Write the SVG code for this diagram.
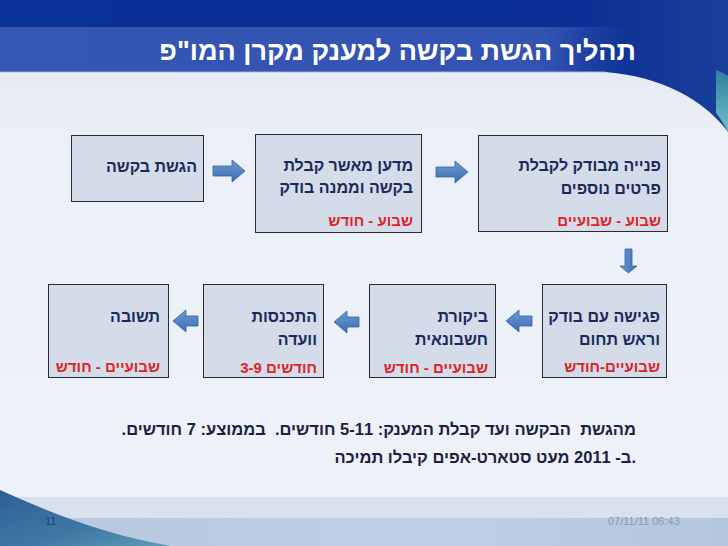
<svg xmlns="http://www.w3.org/2000/svg" width="728" height="546" viewBox="0 0 728 546">
<defs>
<linearGradient id="bg" x1="0" y1="0" x2="0" y2="1">
<stop offset="0" stop-color="#dfe6f2"/><stop offset="0.25" stop-color="#ebeff7"/><stop offset="1" stop-color="#eef2f8"/>
</linearGradient>
<linearGradient id="hdr" x1="0" y1="0" x2="1" y2="0">
<stop offset="0" stop-color="#0a3198"/><stop offset="0.8" stop-color="#0b2f94"/><stop offset="1" stop-color="#1a3f9a"/>
</linearGradient>
<linearGradient id="band" x1="0" y1="0" x2="1" y2="0">
<stop offset="0" stop-color="#3656b4"/><stop offset="0.75" stop-color="#3353b2"/><stop offset="0.86" stop-color="#3353b2" stop-opacity="0"/>
</linearGradient>
<linearGradient id="teal" x1="0" y1="0" x2="0" y2="1">
<stop offset="0" stop-color="#2f7fa0"/><stop offset="1" stop-color="#6fc0c8"/>
</linearGradient>
<linearGradient id="foot" x1="0" y1="0" x2="1" y2="0">
<stop offset="0" stop-color="#b7c7e1"/><stop offset="0.6" stop-color="#c0cee5"/><stop offset="1" stop-color="#b4c5df"/>
</linearGradient>
<linearGradient id="corner" x1="0" y1="0" x2="1" y2="1">
<stop offset="0" stop-color="#2d5f96"/><stop offset="0.6" stop-color="#3e7aa5"/><stop offset="1" stop-color="#5f9db5"/>
</linearGradient>
<linearGradient id="arr" x1="0" y1="0" x2="0" y2="1">
<stop offset="0" stop-color="#6e9ad2"/><stop offset="1" stop-color="#3b6db2"/>
</linearGradient>
<linearGradient id="arrv" x1="0" y1="0" x2="1" y2="0">
<stop offset="0" stop-color="#6e9ad2"/><stop offset="1" stop-color="#3b6db2"/>
</linearGradient>
</defs>
<style>
.box{fill:#d5dce9;stroke:#2b2b2b;stroke-width:1}
.t{font-family:"Liberation Sans","DejaVu Sans",Arial,sans-serif;font-weight:bold;font-size:16px;fill:#1b2a5c;direction:rtl;text-anchor:start}
.r{font-family:"Liberation Sans","DejaVu Sans",Arial,sans-serif;font-weight:bold;font-size:15px;fill:#e01f26;direction:rtl;text-anchor:start}
.a{fill:url(#arr);stroke:#3563a3;stroke-width:0.8}
.av{fill:url(#arrv);stroke:#3563a3;stroke-width:0.8}
.note{font-family:"Liberation Sans","DejaVu Sans",Arial,sans-serif;font-weight:bold;font-size:16.5px;fill:#1a2242;direction:rtl;text-anchor:start;white-space:pre}
.ft{font-family:"Liberation Sans","DejaVu Sans",Arial,sans-serif;font-size:11px}
</style>
<rect x="0" y="0" width="728" height="546" fill="url(#bg)"/>
<path d="M0,0 H728 V132 C705,100 660,76 605,72 H0 Z" fill="url(#hdr)"/>
<rect x="0" y="27" width="728" height="45" fill="url(#band)"/>
<rect x="0" y="71" width="605" height="1.5" fill="#8aa0d6" opacity="0.6"/>
<path d="M716,70 C721,72 725,74 728,76 V132 C724,124 720,118 716,113 Z" fill="url(#teal)"/>
<rect x="0" y="497" width="728" height="21" fill="#dae1ee"/>
<rect x="0" y="518" width="728" height="28" fill="url(#foot)"/>
<path d="M0,490 C55,515 110,536 172,546 H0 Z" fill="url(#corner)"/>
<text x="636" y="60" direction="rtl" font-family="Liberation Sans, DejaVu Sans, Arial, sans-serif" font-weight="bold" font-size="27" fill="#ffffff" text-anchor="start">תהליך הגשת בקשה למענק מקרן המו"פ</text>

<g id="n1">
<rect class="box" x="71.5" y="135.5" width="132" height="66"/>
<text class="t" x="197" y="172">הגשת בקשה</text>
</g>
<g id="n2">
<rect class="box" x="255.5" y="134.5" width="166" height="98"/>
<text class="t" x="413" y="171">מדען מאשר קבלת</text>
<text class="t" x="413" y="193">בקשה וממנה בודק</text>
<text class="r" x="413" y="226">שבוע - חודש</text>
</g>
<g id="n3">
<rect class="box" x="478.5" y="135.5" width="189" height="96"/>
<text class="t" x="661" y="171">פנייה מבודק לקבלת</text>
<text class="t" x="661" y="194">פרטים נוספים</text>
<text class="r" x="661" y="226">שבוע - שבועיים</text>
</g>
<g id="n4">
<rect class="box" x="542.5" y="284.5" width="124" height="93"/>
<text class="t" x="660" y="322">פגישה עם בודק</text>
<text class="t" x="660" y="345">וראש תחום</text>
<text class="r" x="660" y="372">שבועיים-חודש</text>
</g>
<g id="n5">
<rect class="box" x="369.5" y="284.5" width="126" height="93"/>
<text class="t" x="488" y="322">ביקורת</text>
<text class="t" x="488" y="345">חשבונאית</text>
<text class="r" x="488" y="373">שבועיים - חודש</text>
</g>
<g id="n6">
<rect class="box" x="203.5" y="284.5" width="120" height="93"/>
<text class="t" x="317" y="322">התכנסות</text>
<text class="t" x="317" y="345">וועדה</text>
<text class="r" x="317" y="373">חודשים 3-9</text>
</g>
<g id="n7">
<rect class="box" x="48.5" y="284.5" width="120" height="93"/>
<text class="t" x="160" y="322">תשובה</text>
<text class="r" x="160" y="372">שבועיים - חודש</text>
</g>

<g id="connectors">
<path class="a" d="M213,166 H232 V160 L245,171 L232,182 V176 H213 Z"/>
<path class="a" d="M436,167 H455 V161 L468,172 L455,183 V177 H436 Z"/>
<path class="av" d="M625,249 H632 V266 H637 L628.5,273 L620,266 H625 Z"/>
<path class="a" d="M506,321 L519,310 V316 H532 V326 H519 V332 Z"/>
<path class="a" d="M334,322 L347,311 V317 H359 V327 H347 V333 Z"/>
<path class="a" d="M173,321 L186,310 V316 H198 V326 H186 V332 Z"/>
</g>

<text class="note" x="636" y="435" xml:space="preserve">מהגשת  הבקשה ועד קבלת המענק: 5-11 חודשים.  בממוצע: 7 חודשים.</text>
<text class="note" x="636" y="463">.ב- 2011 מעט סטארט-אפים קיבלו תמיכה</text>

<text class="ft" x="45" y="525" fill="#1f3d7a">11</text>
<text class="ft" x="608" y="525" fill="#8797b8">07/11/11 06:43</text>
</svg>
